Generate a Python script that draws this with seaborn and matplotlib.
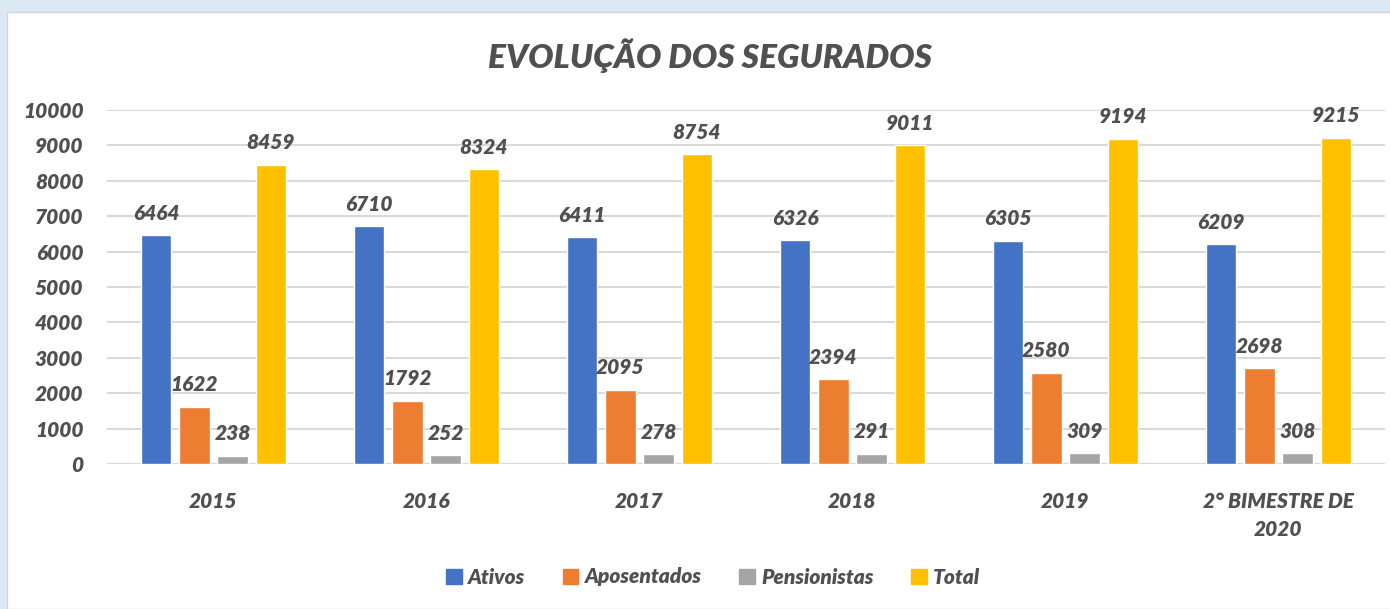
import matplotlib
matplotlib.use("Agg")
import matplotlib.pyplot as plt
import matplotlib.patches as mpatches
import seaborn as sns
import pandas as pd

# === DATA ===
periods = ["2015", "2016", "2017", "2018", "2019", "2° BIMESTRE DE\n2020"]
ativos = [6464, 6710, 6411, 6326, 6305, 6209]
aposentados = [1622, 1792, 2095, 2394, 2580, 2698]
pensionistas = [238, 252, 278, 291, 309, 308]
total = [8459, 8324, 8754, 9011, 9194, 9215]
series_names = ["Ativos", "Aposentados", "Pensionistas", "Total"]
colors = ["#4472C4", "#ED7D31", "#A5A5A5", "#FFC000"]

df = pd.concat([
    pd.DataFrame({"Periodo": periods, "Valor": vals, "Serie": name})
    for name, vals in zip(series_names, [ativos, aposentados, pensionistas, total])
], ignore_index=True)

sns.set_style("white")
plt.rcParams['font.family'] = ['Lato', 'DejaVu Sans']
TXT = "#505050"
W = "heavy"

fig = plt.figure(figsize=(13.9, 6.09), dpi=100)
fig.patch.set_facecolor("#DCE8F4")
# white chart area
fig.add_artist(mpatches.Rectangle((7 / 1390, 0), 1, 1 - 12 / 609, transform=fig.transFigure,
                                  facecolor="white", edgecolor="#D0D7E0", lw=1, zorder=0))

ax = fig.add_axes([107 / 1390, 1 - 464 / 609, 1278 / 1390, (464 - 110) / 609])
ax.set_facecolor("none")

sns.barplot(data=df, x="Periodo", y="Valor", hue="Serie", palette=colors,
            width=0.72, gap=0.2, ax=ax, legend=False, saturation=1)

for cont in ax.containers:
    ax.bar_label(cont, fmt="%d", padding=9, fontsize=15, fontweight=W,
                 fontstyle="italic", color=TXT)

ax.set_ylim(0, 10000)
ax.set_yticks(range(0, 10001, 1000))
ax.yaxis.grid(True, color="#D9D9D9", lw=1.5)
ax.set_axisbelow(True)
for s in ax.spines.values():
    s.set_visible(False)
ax.axhline(0, color="#D9D9D9", lw=1.5, zorder=0.5)
ax.set_xlabel("")
ax.set_ylabel("")
ax.tick_params(axis="both", length=0, labelsize=15, labelcolor=TXT)
ax.tick_params(axis="x", pad=20)
ax.tick_params(axis="y", pad=17)
for lab in ax.get_xticklabels() + ax.get_yticklabels():
    lab.set_fontweight(W)
    lab.set_fontstyle("italic")
for lab in ax.get_xticklabels():
    lab.set_linespacing(1.6)

fig.text(0.511, 1 - 56 / 609, "EVOLUÇÃO DOS SEGURADOS", ha="center", va="center",
         fontsize=24, fontweight=W, fontstyle="italic", color=TXT)

handles = [mpatches.Patch(color=c, label=n) for c, n in zip(colors, series_names)]
leg = fig.legend(handles=handles, loc="center", bbox_to_anchor=(0.513, 1 - 577 / 609),
                 ncol=4, frameon=False, handlelength=0.75, handleheight=0.75,
                 handletextpad=0.3, columnspacing=1.8,
                 prop={"size": 15, "weight": W, "style": "italic"})
for t in leg.get_texts():
    t.set_color(TXT)

fig.savefig("out.png", dpi=100)
